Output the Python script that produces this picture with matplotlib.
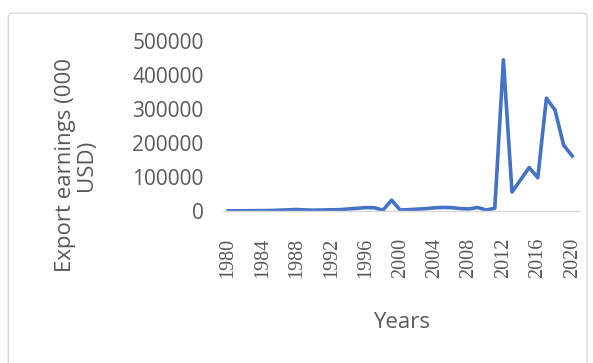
import matplotlib.pyplot as plt
from matplotlib.patches import FancyBboxPatch

years = list(range(1980, 2021))
earnings = [
    500, 600, 800, 1000, 1200, 1500, 2500, 3500, 4500, 3000,
    2500, 3000, 3500, 4000, 6000, 8000, 10000, 9500, 2500, 32000,
    3000, 4000, 5500, 7000, 9500, 10500, 10000, 7000, 6000, 10500,
    3000, 8000, 445000, 56000, 92000, 128000, 98000, 332000, 297000, 194000,
    162000,
]
tick_years = list(range(1980, 2021, 4))
y_ticks = [0, 100000, 200000, 300000, 400000, 500000]

text_color = "#595959"

fig = plt.figure(figsize=(5.93, 3.63), dpi=100)
fig.patch.set_facecolor("white")

# chart frame, open at the bottom edge
frame = FancyBboxPatch((0.014, -0.05), 0.976, 1.014, transform=fig.transFigure,
                       boxstyle="round,pad=0,rounding_size=0.01",
                       facecolor="none", edgecolor="#d9d9d9", linewidth=1.0)
fig.patches.append(frame)

ax = fig.add_axes([0.376, 0.4187, 0.602, 0.468])
ax.plot(years, earnings, color="#4472C4", linewidth=2.6, solid_joinstyle="round")

ax.set_xlim(1979.4, 2020.9)
ax.set_ylim(0, 500000)
ax.set_xticks(tick_years)
ax.set_xticklabels([str(y) for y in tick_years], rotation=90,
                   family="Liberation Serif", fontsize=14.5, color=text_color)
ax.set_yticks(y_ticks)
ax.set_yticklabels([str(v) for v in y_ticks], family="Open Sans",
                   fontsize=15, color=text_color)
ax.tick_params(axis="both", length=0)
ax.tick_params(axis="x", pad=19)
ax.tick_params(axis="y", pad=14)

for side in ["top", "right", "left"]:
    ax.spines[side].set_visible(False)
ax.spines["bottom"].set_color("#d9d9d9")
ax.spines["bottom"].set_linewidth(1.0)

ax.set_xlabel("Years", family="Open Sans", fontsize=16, color=text_color, labelpad=25)
fig.text(0.128, 0.545, "Export earnings (000\nUSD)", rotation=90, ha="center",
         va="center", family="Open Sans", fontsize=16, color=text_color,
         multialignment="center", linespacing=1.0)

fig.savefig("out.png", dpi=100)
plt.close(fig)
